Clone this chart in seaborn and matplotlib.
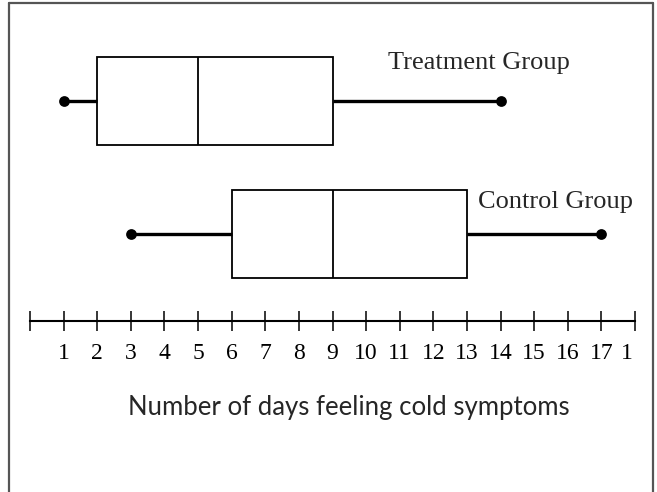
import numpy as np
import pandas as pd
import matplotlib
matplotlib.use('Agg')
import matplotlib.pyplot as plt
import matplotlib.transforms as mtransforms
from matplotlib.lines import Line2D
import seaborn as sns

# five-number summaries (min, Q1, median, Q3, max)
groups = ['Treatment Group', 'Control Group']
treatment_days = [1, 2, 5, 9, 14]
control_days = [3, 6, 9, 13, 17]
tick_values = list(range(0, 19))
tick_labels = [''] + [str(i) for i in range(1, 18)] + ['1']

sns.set_theme(style='white')
plt.rcParams['font.family'] = ['Liberation Serif', 'DejaVu Serif']

W, H = 657, 492
fig = plt.figure(figsize=(W / 100, H / 100), dpi=100)
ax = fig.add_axes([0, 0, 1, 1])

df = pd.DataFrame({
    'group': [groups[0]] * len(treatment_days) + [groups[1]] * len(control_days),
    'days': treatment_days + control_days,
})

sns.boxplot(data=df, x='days', y='group', orient='h', ax=ax,
            width=0.662, color='white', linecolor='black', linewidth=1.3,
            showcaps=False, showfliers=False,
            whiskerprops={'linewidth': 2.4},
            medianprops={'linewidth': 1.3})

# dots at the whisker ends
ends = df.groupby('group', sort=False)['days'].agg(['min', 'max']).reset_index()
ends['pos'] = [groups.index(g) for g in ends['group']]
ends = ends.melt(id_vars=['group', 'pos'], value_vars=['min', 'max'], value_name='days')
sns.scatterplot(data=ends, x='days', y='pos', ax=ax, color='black', s=60,
                edgecolor='black', linewidth=0, zorder=5, legend=False)

# map data units to the picture's pixel layout
px_x = 605 / 18
ax.set_xlim(-30 / px_x, (W - 30) / px_x)
px_y = 133
ax.set_ylim((H - 101) / px_y, -101 / px_y)

ax.set_yticks([])
ax.set_ylabel('')
ax.set_xlabel('')
for s in ['left', 'right', 'top']:
    ax.spines[s].set_visible(False)
ax.spines['bottom'].set_position(('data', (321 - 101) / px_y))
ax.spines['bottom'].set_bounds(tick_values[0], tick_values[-1])
ax.spines['bottom'].set_linewidth(1.5)
ax.spines['bottom'].set_color('black')
ax.set_xticks(tick_values)
ax.set_xticklabels(tick_labels)
ax.tick_params(axis='x', direction='inout', length=14, width=1.1, color='black',
               pad=9, labelsize=17, labelcolor='black', bottom=True)
last = ax.get_xticklabels()[-1]
last.set_transform(last.get_transform() + mtransforms.ScaledTranslation(-8 / 100, 0, fig.dpi_scale_trans))
ax.patch.set_alpha(0)

fig.text(388 / W, 1 - 69 / H, groups[0], ha='left', va='baseline', fontsize=19)
fig.text(478 / W, 1 - 208 / H, groups[1], ha='left', va='baseline', fontsize=19)
fig.text(348.5 / W, 1 - 415 / H, 'Number of days feeling cold symptoms',
         ha='center', va='baseline', fontsize=18.5, family=['Lato', 'DejaVu Sans'])

# grey frame around the picture
frame = dict(color='#555555', linewidth=1.6, transform=None)
fig.add_artist(Line2D([9, 9], [0, H - 3], **frame))
fig.add_artist(Line2D([653, 653], [0, H - 3], **frame))
fig.add_artist(Line2D([9, 653], [H - 3, H - 3], **frame))

fig.savefig('out.png', dpi=100)
